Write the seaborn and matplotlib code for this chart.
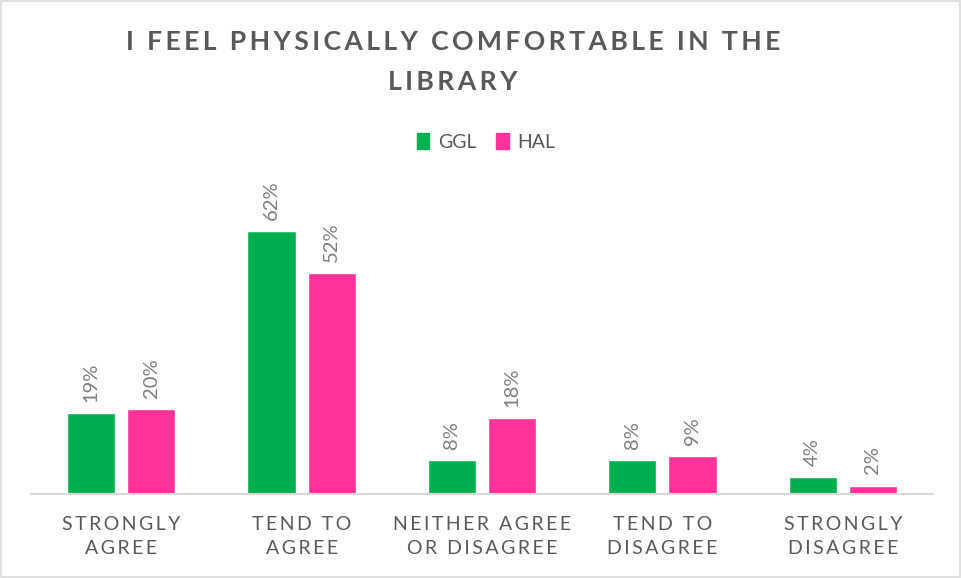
"""Grafico de barras agrupadas: comodidad fisica en la biblioteca."""

import matplotlib.pyplot as plt
import pandas as pd
import seaborn as sns
from matplotlib.patches import Rectangle

categories = [
    "STRONGLY\nAGREE",
    "TEND TO\nAGREE",
    "NEITHER AGREE\nOR DISAGREE",
    "TEND TO\nDISAGREE",
    "STRONGLY\nDISAGREE",
]
series_names = ["GGL", "HAL"]
ggl_values = [19, 62, 8, 8, 4]
hal_values = [20, 52, 18, 9, 2]
series_colors = ["#00B050", "#FF3399"]
title = "I FEEL PHYSICALLY COMFORTABLE IN THE\nLIBRARY"

TEXT_GRAY = "#595959"
LABEL_GRAY = "#7F7F7F"
FONT = ["Lato", "DejaVu Sans"]


def spaced(text, sep="\u2009"):
    """Imita el espaciado entre letras de Excel."""
    return "\n".join(sep.join(line) for line in text.split("\n"))


df = pd.DataFrame(
    {
        "category": categories * 2,
        "series": [series_names[0]] * len(categories) + [series_names[1]] * len(categories),
        "value": ggl_values + hal_values,
    }
)

sns.set_style("white")
plt.rcParams["font.family"] = FONT

fig = plt.figure(figsize=(9.62, 5.78), dpi=100)
ax = fig.add_axes([31 / 962, 84 / 578, 902 / 962, 297 / 578])

sns.barplot(
    data=df,
    x="category",
    y="value",
    hue="series",
    hue_order=series_names,
    palette=series_colors,
    width=0.667,
    gap=0.2,
    saturation=1,
    ax=ax,
    legend=False,
)

for container in ax.containers:
    ax.bar_label(
        container,
        labels=[f"{v:.0f}%" for v in container.datavalues],
        rotation=90,
        padding=8,
        fontsize=14.5,
        color=LABEL_GRAY,
        family=FONT,
    )

ax.set_xlim(-0.5, len(categories) - 0.5)
ax.set_ylim(0, 70)
ax.set_xlabel("")
ax.set_ylabel("")
ax.set_yticks([])
ax.set_xticks(range(len(categories)))
ax.set_xticklabels(
    [spaced(c) for c in categories],
    fontsize=14,
    color=TEXT_GRAY,
    linespacing=1.5,
    family=FONT,
)
ax.tick_params(axis="x", length=0, pad=16)
for side in ["top", "left", "right"]:
    ax.spines[side].set_visible(False)
ax.spines["bottom"].set_color("#D9D9D9")
ax.spines["bottom"].set_linewidth(1.5)

fig.text(
    453 / 962,
    1 - 62 / 578,
    spaced(title, "\u2009"),
    ha="center",
    va="center",
    fontsize=19.2,
    fontweight="bold",
    color=TEXT_GRAY,
    linespacing=1.85,
    family=FONT,
)

# leyenda manual centrada arriba
handles = [Rectangle((0, 0), 1, 1, color=c) for c in series_colors]
fig.legend(
    handles,
    series_names,
    loc="center",
    bbox_to_anchor=(486 / 962, 1 - 142 / 578),
    ncol=2,
    frameon=False,
    handlelength=0.65,
    handleheight=0.85,
    handletextpad=0.45,
    columnspacing=1.0,
    prop={"family": FONT, "size": 14},
    labelcolor=TEXT_GRAY,
)

fig.patches.append(
    Rectangle(
        (0.001, 0.001),
        0.997,
        0.997,
        transform=fig.transFigure,
        fill=False,
        edgecolor="#D9D9D9",
        linewidth=1.2,
    )
)

plt.savefig("out.png", dpi=100)
plt.close()
